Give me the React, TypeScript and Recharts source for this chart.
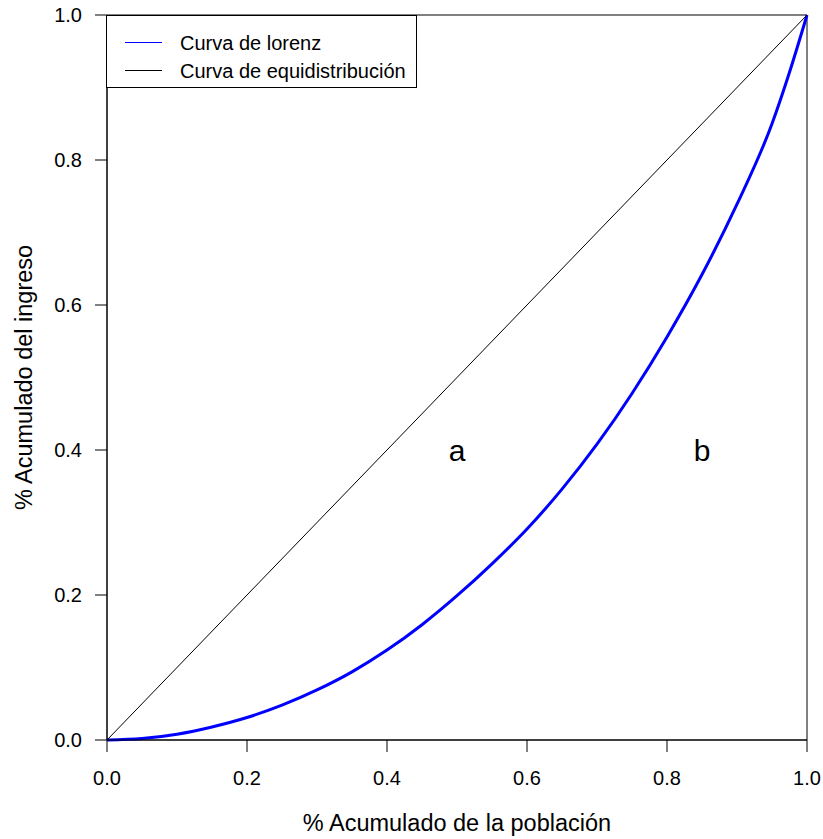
import React from "react";
import {
  LineChart,
  Line,
  XAxis,
  YAxis,
  Legend,
  ReferenceArea,
  ReferenceDot,
} from "recharts";

// cumulative share of population vs cumulative share of income
const populationShare = [
  0, 0.05, 0.1, 0.15, 0.2, 0.25, 0.3, 0.35, 0.4, 0.45, 0.5, 0.55, 0.6, 0.65,
  0.7, 0.75, 0.8, 0.85, 0.9, 0.95, 0.975, 1,
];
const lorenzShare = [
  0, 0.002, 0.008, 0.018, 0.031, 0.048, 0.069, 0.094, 0.124, 0.159, 0.199,
  0.243, 0.291, 0.346, 0.408, 0.478, 0.556, 0.642, 0.739, 0.85, 0.921, 1,
];
const equalityX = [0, 1];
const equalityY = [0, 1];

const seriesNames = ["Curva de lorenz", "Curva de equidistribución"];

const xTicks = [0, 0.2, 0.4, 0.6, 0.8, 1];
const yTicks = [0, 0.2, 0.4, 0.6, 0.8, 1];

const areaLabels = ["a", "b"];
const areaLabelX = [0.5, 0.85];
const areaLabelY = [0.4, 0.4];

const lorenzData = populationShare.map((x, i) => ({ x, y: lorenzShare[i] }));
const equalityData = equalityX.map((x, i) => ({ x, y: equalityY[i] }));

const FONT = '"Liberation Sans", Arial, Helvetica, sans-serif';

function LegendBox(props: any) {
  const items = [...(props.payload || [])].sort(
    (a: any, b: any) => seriesNames.indexOf(a.value) - seriesNames.indexOf(b.value)
  );
  return (
    <svg width={311} height={73} style={{ display: "block" }}>
      <rect x={0.5} y={0.5} width={310} height={72} fill="#fff" stroke="#000" />
      {items.map((it: any, i: number) => {
        const cy = 27.5 + i * 28;
        return (
          <g key={i}>
            <line x1={19} x2={56} y1={cy} y2={cy} stroke={it.color} strokeWidth={1} />
            <text x={74} y={cy + 7} fontSize={20} fontFamily={FONT} fill="#000">
              {it.value}
            </text>
          </g>
        );
      })}
    </svg>
  );
}

function XTitle(props: any) {
  const vb = props.viewBox || {};
  return (
    <text
      x={vb.x + vb.width / 2}
      y={830.5}
      textAnchor="middle"
      fontSize={23.5}
      fontFamily={FONT}
      fill="#000"
    >
      % Acumulado de la población
    </text>
  );
}

function YTitle(props: any) {
  const vb = props.viewBox || {};
  const cy = vb.y + vb.height / 2;
  return (
    <text
      x={31.5}
      y={cy}
      transform={`rotate(-90, 31.5, ${cy})`}
      textAnchor="middle"
      fontSize={23.5}
      fontFamily={FONT}
      fill="#000"
    >
      % Acumulado del ingreso
    </text>
  );
}

export default function App() {
  const tickStyle = { fill: "#000", fontSize: 20, fontFamily: FONT };
  return (
    <div style={{ position: "absolute", left: 0, top: 0 }}>
      <LineChart
        width={823}
        height={839}
        data={lorenzData}
        margin={{ top: 15, right: 16, bottom: 0, left: 0 }}
      >
        <XAxis
          type="number"
          dataKey="x"
          domain={[0, 1]}
          ticks={xTicks}
          interval={0}
          tickFormatter={(v: number) => v.toFixed(1)}
          tick={tickStyle}
          tickSize={12}
          tickMargin={19}
          stroke="#000"
          height={99}
          label={<XTitle />}
        />
        <YAxis
          type="number"
          domain={[0, 1]}
          ticks={yTicks}
          interval={0}
          tickFormatter={(v: number) => v.toFixed(1)}
          tick={tickStyle}
          tickSize={12}
          tickMargin={13}
          stroke="#000"
          width={107}
          label={<YTitle />}
        />
        <ReferenceArea
          x1={0}
          x2={1}
          y1={0}
          y2={1}
          fill="none"
          fillOpacity={0}
          stroke="#000"
          strokeWidth={1}
        />
        <Line
          name={seriesNames[0]}
          dataKey="y"
          type="monotone"
          stroke="#0000ff"
          strokeWidth={3}
          dot={false}
          activeDot={false}
          isAnimationActive={false}
        />
        <Line
          name={seriesNames[1]}
          data={equalityData}
          dataKey="y"
          type="linear"
          stroke="#000"
          strokeWidth={1}
          dot={false}
          activeDot={false}
          isAnimationActive={false}
        />
        {areaLabels.map((t, i) => (
          <ReferenceDot
            key={t}
            x={areaLabelX[i]}
            y={areaLabelY[i]}
            r={0}
            fill="none"
            stroke="none"
            label={{
              value: t,
              position: "center",
              fontSize: 30,
              fontFamily: FONT,
              fill: "#000",
            }}
          />
        ))}
        <Legend
          layout="horizontal"
          verticalAlign="middle"
          align="center"
          wrapperStyle={{ top: 15, left: 106, width: 311, height: 73 }}
          content={<LegendBox />}
        />
      </LineChart>
    </div>
  );
}
